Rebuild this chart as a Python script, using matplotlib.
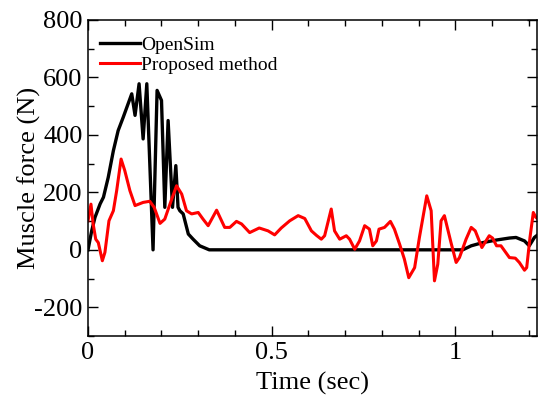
import matplotlib
matplotlib.use("Agg")
import matplotlib.pyplot as plt
from matplotlib.ticker import MultipleLocator

plt.rcParams['font.family'] = 'serif'
plt.rcParams['font.serif'] = ['Liberation Serif', 'DejaVu Serif']
plt.rcParams['axes.unicode_minus'] = False

# OpenSim muscle force (N) vs time (sec)
t_opensim = [0, 0.010, 0.019, 0.033, 0.042, 0.055, 0.069, 0.082, 0.096, 0.119,
             0.128, 0.139, 0.150, 0.160, 0.177, 0.188, 0.200, 0.209, 0.218, 0.230,
             0.239, 0.245, 0.250, 0.259, 0.273, 0.286, 0.304, 0.330, 1.020, 1.043,
             1.074, 1.111, 1.147, 1.165, 1.188, 1.201, 1.215, 1.222]
f_opensim = [0, 66, 113, 160, 183, 252, 345, 415, 462, 543,
             468, 578, 386, 578, 0, 555, 520, 148, 450, 148,
             293, 148, 136, 125, 55, 37, 14, 0, 0, 14,
             25, 34, 41, 43, 31, 14, 43, 50]

# proposed method
t_proposed = [0, 0.008, 0.014, 0.021, 0.028, 0.039, 0.046, 0.057, 0.069, 0.078,
              0.090, 0.100, 0.114, 0.128, 0.150, 0.168, 0.180, 0.196, 0.209, 0.223,
              0.241, 0.255, 0.268, 0.282, 0.300, 0.313, 0.327, 0.350, 0.372, 0.386,
              0.404, 0.418, 0.440, 0.466, 0.490, 0.508, 0.526, 0.549, 0.572, 0.590,
              0.608, 0.622, 0.635, 0.644, 0.662, 0.671, 0.685, 0.703, 0.712, 0.726,
              0.739, 0.753, 0.766, 0.775, 0.785, 0.792, 0.807, 0.823, 0.834, 0.848,
              0.861, 0.873, 0.889, 0.902, 0.922, 0.934, 0.943, 0.952, 0.961, 0.970,
              0.988, 1.002, 1.011, 1.029, 1.043, 1.054, 1.072, 1.092, 1.101, 1.112,
              1.124, 1.147, 1.163, 1.174, 1.188, 1.194, 1.203, 1.212, 1.219, 1.222]
f_proposed = [101, 159, 90, 37, 25, -38, -9, 101, 136, 206,
              316, 276, 206, 154, 165, 169, 148, 92, 107, 159,
              223, 194, 136, 125, 130, 107, 84, 138, 78, 78,
              99, 90, 60, 76, 66, 52, 76, 101, 119, 109,
              66, 50, 37, 49, 142, 66, 37, 49, 37, 2,
              31, 84, 72, 14, 31, 72, 78, 99, 72, 20,
              -32, -97, -62, 43, 188, 136, -108, -50, 101, 119,
              25, -44, -27, 37, 78, 66, 8, 49, 41, 14,
              14, -27, -29, -44, -71, -62, 43, 130, 113, 110]

fig = plt.figure(figsize=(5.38, 3.96), dpi=100)
ax = fig.add_axes([0.1636, 0.1515, 0.8345, 0.798])

ax.plot(t_opensim, f_opensim, color='black', lw=2.4, label='OpenSim')
ax.plot(t_proposed, f_proposed, color='#ff0000', lw=2.2, label='Proposed method')

ax.set_xlim(0, 1.222)
ax.set_ylim(-300, 800)
ax.xaxis.set_minor_locator(MultipleLocator(0.1))
ax.yaxis.set_minor_locator(MultipleLocator(100))
ax.set_xticks([0, 0.5, 1])
ax.set_xticklabels(['0', '0.5', '1'])
ax.set_yticks([-200, 0, 200, 400, 600, 800])
ax.tick_params(which='both', direction='in', top=True, right=True, labelsize=19, width=1)
ax.tick_params(which='major', length=7, pad=4)
ax.tick_params(which='minor', length=4)
for s in ax.spines.values():
    s.set_linewidth(1.1)

ax.set_xlabel('Time (sec)', fontsize=19, labelpad=6)
ax.set_ylabel('Muscle force (N)', fontsize=19, labelpad=-5)

ax.legend(loc='upper left', bbox_to_anchor=(0.027, 0.949), frameon=False,
          fontsize=14, handlelength=2.05, handletextpad=0.05, borderpad=0,
          borderaxespad=0, labelspacing=0.12)

fig.savefig('out.png', dpi=100)
